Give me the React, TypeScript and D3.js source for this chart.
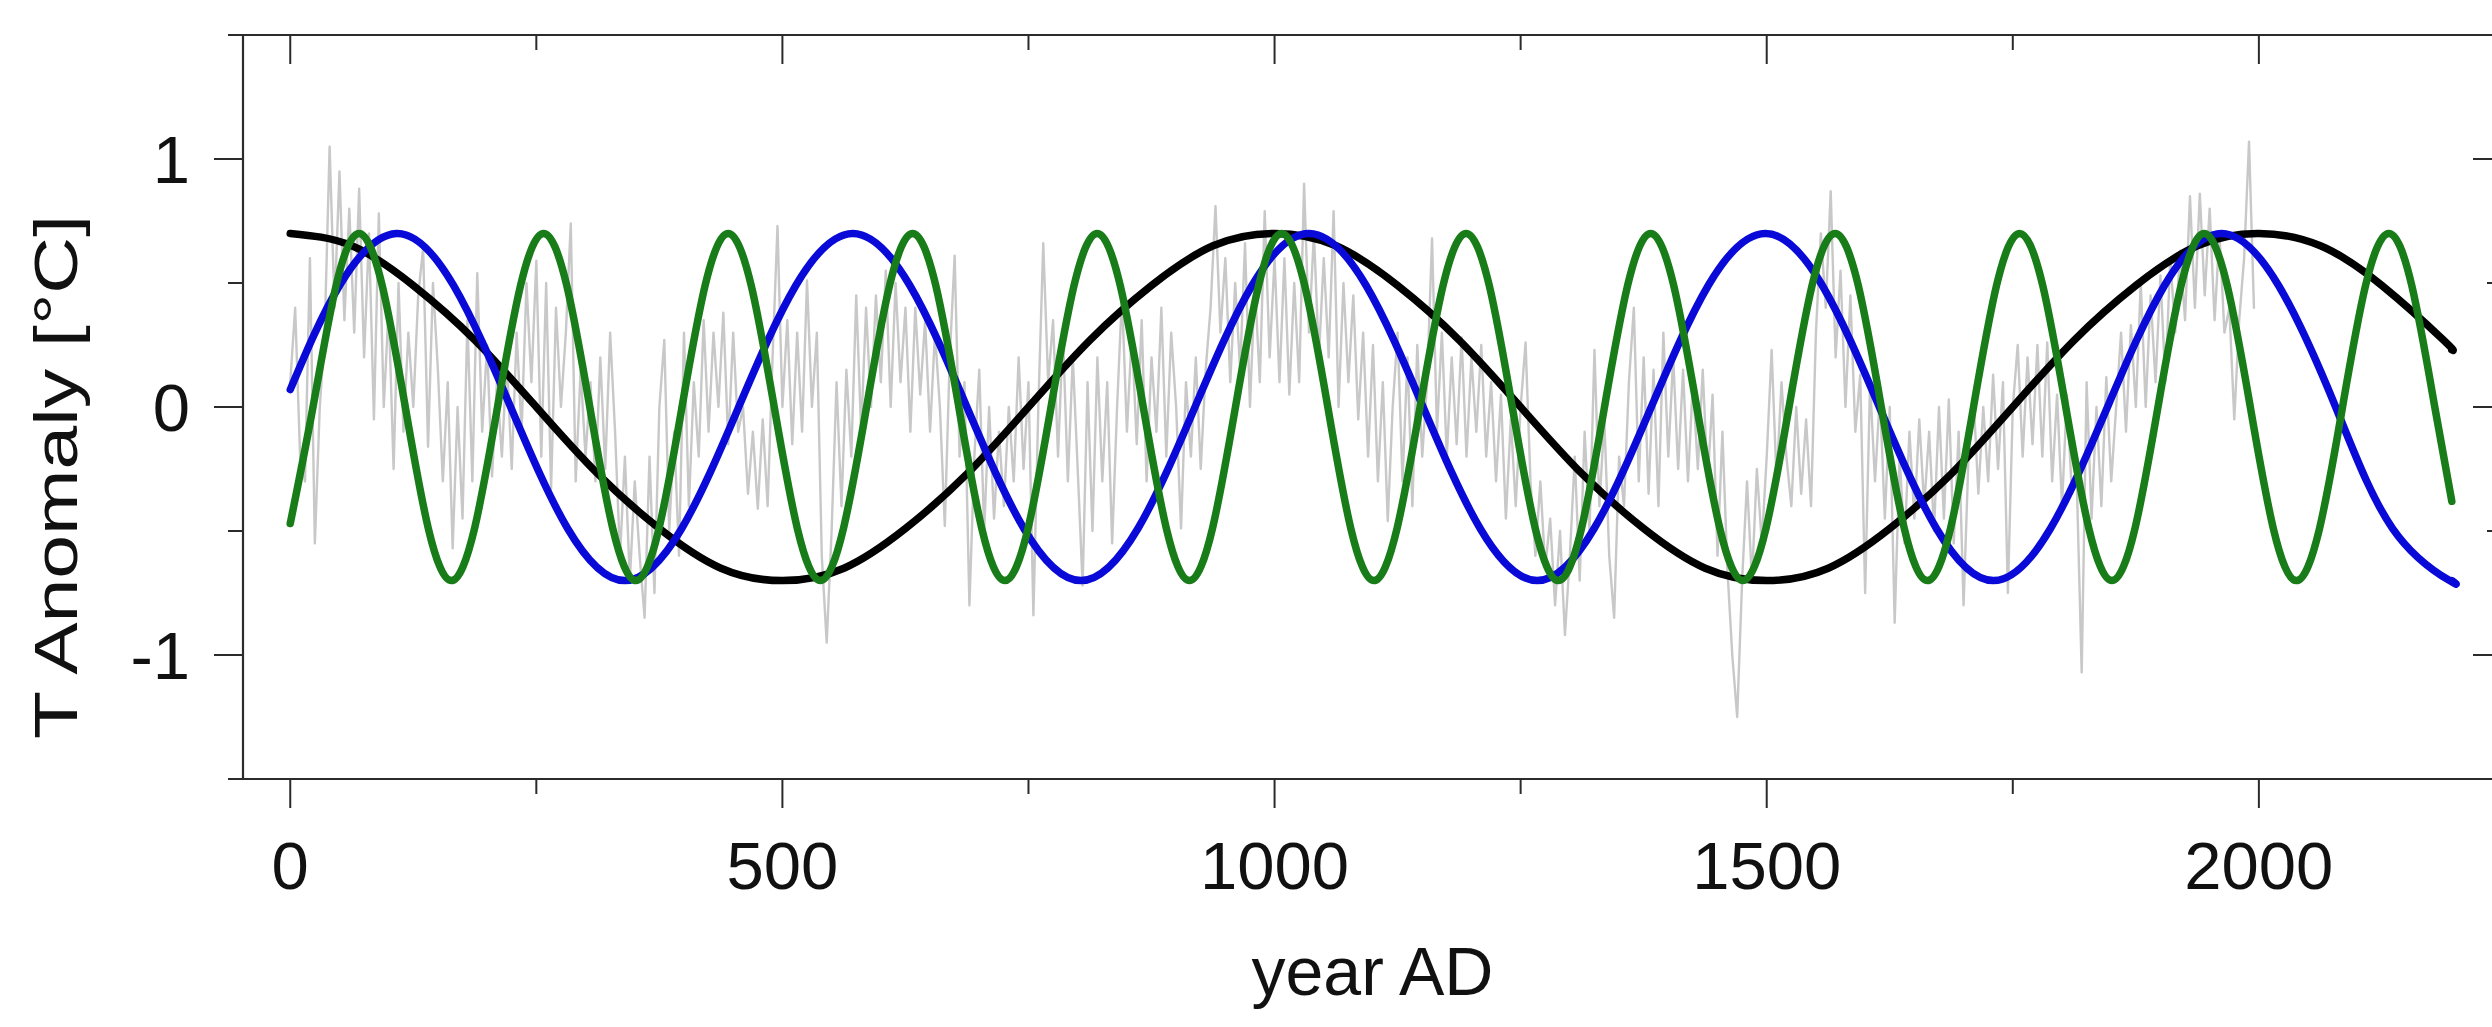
import React from 'react';
import * as d3 from 'd3';

const W = 2492;
const H = 1027;

// axis ticks
const xTicksMajor = [0, 500, 1000, 1500, 2000];
const xTicksMinor = [250, 750, 1250, 1750];
const yTicksMajor = [-1, 0, 1];
const yTicksMinor = [-1.5, -0.5, 0.5, 1.5];
const xTickLabels = ['0', '500', '1000', '1500', '2000'];
const yTickLabels = ['-1', '0', '1'];

// black cycle (~1000 yr)
const blackYears = [0, 62.5, 125, 187.5, 250, 312.5, 375, 437.5, 500, 562.5, 625, 687.5, 750, 812.5, 875, 937.5,
  1000, 1062.5, 1125, 1187.5, 1250, 1312.5, 1375, 1437.5, 1500, 1562.5, 1625, 1687.5, 1750, 1812.5, 1875, 1937.5,
  2000, 2062.5, 2125, 2187.5, 2196];
const blackValues = [0.70, 0.65, 0.49, 0.27, 0, -0.27, -0.49, -0.65, -0.70, -0.65, -0.49, -0.27, 0, 0.27, 0.49, 0.65,
  0.70, 0.65, 0.49, 0.27, 0, -0.27, -0.49, -0.65, -0.70, -0.65, -0.49, -0.27, 0, 0.27, 0.49, 0.65,
  0.70, 0.65, 0.49, 0.27, 0.23];

// blue cycle (~463 yr)
const blueYears = [0, 50.1, 108.0, 165.9, 223.9, 281.8, 339.8, 397.7, 455.6, 513.6, 571.5, 629.5, 687.4, 745.3, 803.3,
  861.2, 919.2, 977.1, 1035.0, 1093.0, 1150.9, 1208.9, 1266.8, 1324.7, 1382.7, 1440.6, 1498.6, 1556.5, 1614.4,
  1672.4, 1730.3, 1788.3, 1846.2, 1904.1, 1962.1, 2020.0, 2078.0, 2135.9, 2193.8, 2196];
const blueValues = [0.07, 0.49, 0.70, 0.49, 0, -0.49, -0.70, -0.49, 0, 0.49, 0.70, 0.49, 0, -0.49, -0.70,
  -0.49, 0, 0.49, 0.70, 0.49, 0, -0.49, -0.70, -0.49, 0, 0.49, 0.70, 0.49, 0,
  -0.49, -0.70, -0.49, 0, 0.49, 0.70, 0.49, 0, -0.49, -0.70, -0.70];

// green cycle (~187 yr)
const greenYears = [0, 23.1, 46.6, 70.0, 93.4, 116.9, 140.3, 163.7, 187.2, 210.6, 234.0, 257.4, 280.9, 304.3, 327.7,
  351.2, 374.6, 398.0, 421.5, 444.9, 468.3, 491.7, 515.2, 538.6, 562.0, 585.5, 608.9, 632.3, 655.8, 679.2, 702.6,
  726.0, 749.5, 772.9, 796.3, 819.8, 843.2, 866.6, 890.1, 913.5, 936.9, 960.3, 983.8, 1007.2, 1030.6, 1054.1,
  1077.5, 1100.9, 1124.4, 1147.8, 1171.2, 1194.6, 1218.1, 1241.5, 1264.9, 1288.4, 1311.8, 1335.2, 1358.7, 1382.1,
  1405.5, 1428.9, 1452.4, 1475.8, 1499.2, 1522.7, 1546.1, 1569.5, 1593.0, 1616.4, 1639.8, 1663.2, 1686.7, 1710.1,
  1733.5, 1757.0, 1780.4, 1803.8, 1827.3, 1850.7, 1874.1, 1897.5, 1921.0, 1944.4, 1967.8, 1991.3, 2014.7, 2038.1,
  2061.6, 2085.0, 2108.4, 2131.8, 2155.3, 2178.7, 2196];
const greenValues = [-0.47, 0, 0.49, 0.70, 0.49, 0, -0.49, -0.70, -0.49, 0, 0.49, 0.70, 0.49, 0, -0.49,
  -0.70, -0.49, 0, 0.49, 0.70, 0.49, 0, -0.49, -0.70, -0.49, 0, 0.49, 0.70, 0.49, 0, -0.49,
  -0.70, -0.49, 0, 0.49, 0.70, 0.49, 0, -0.49, -0.70, -0.49, 0, 0.49, 0.70, 0.49, 0,
  -0.49, -0.70, -0.49, 0, 0.49, 0.70, 0.49, 0, -0.49, -0.70, -0.49, 0, 0.49, 0.70,
  0.49, 0, -0.49, -0.70, -0.49, 0, 0.49, 0.70, 0.49, 0, -0.49, -0.70, -0.49, 0,
  0.49, 0.70, 0.49, 0, -0.49, -0.70, -0.49, 0, 0.49, 0.70, 0.49, 0, -0.49, -0.70,
  -0.49, 0, 0.49, 0.70, 0.49, 0, -0.38];

// gray reconstruction, one value every 5 years from year 0
const grayStartYear = 0;
const grayStep = 5;
const grayValues = [
  0.1, 0.4, -0.2, -0.3, 0.6, -0.55, 0.0, 0.3, 1.05, 0.4, 0.95, 0.35, 0.8, 0.3, 0.88, 0.2, 0.7, -0.05, 0.78, 0.0,
  0.4, -0.25, 0.5, -0.1, 0.3, 0.0, 0.45, 0.64, -0.16, 0.5, 0.15, -0.3, 0.1, -0.57, 0.0, -0.45, 0.35, -0.3, 0.54, -0.1,
  0.25, -0.28, 0.1, -0.2, 0.2, -0.25, 0.3, -0.1, 0.5, 0.1, 0.59, -0.2, 0.5, -0.33, 0.4, 0.0, 0.3, 0.74, -0.3, 0.15,
  -0.2, 0.1, -0.3, 0.2, -0.25, 0.3, -0.1, -0.6, -0.2, -0.7, -0.3, -0.6, -0.85, -0.2, -0.75, 0.0, 0.27, -0.5, -0.1, -0.6,
  0.3, -0.4, 0.1, -0.2, 0.35, -0.1, 0.3, 0.0, 0.38, -0.15, 0.3, -0.1, 0.0, -0.35, -0.1, -0.41, -0.05, -0.4, 0.2, 0.73,
  0.0, 0.35, -0.15, 0.3, -0.1, 0.51, 0.0, 0.3, -0.6, -0.95, -0.5, 0.1, -0.4, 0.15, -0.2, 0.45, -0.1, 0.4, 0.0, 0.45,
  0.1, 0.55, 0.0, 0.5, 0.1, 0.4, -0.1, 0.4, 0.05, 0.35, -0.1, 0.3, 0.0, -0.48, 0.2, 0.61, -0.2, 0.1, -0.8, -0.2,
  0.15, -0.5, 0.0, -0.45, -0.1, -0.4, 0.0, -0.3, 0.2, -0.25, 0.1, -0.84, 0.0, 0.66, 0.1, 0.35, -0.2, 0.3, -0.3, 0.2,
  -0.25, -0.72, 0.1, -0.5, 0.2, -0.3, 0.1, -0.55, 0.0, 0.45, -0.1, 0.3, -0.15, 0.35, -0.3, 0.2, -0.1, 0.4, -0.2, 0.3,
  0.0, -0.49, 0.1, -0.2, 0.2, -0.25, 0.15, 0.4, 0.81, 0.3, 0.6, 0.1, 0.5, 0.15, 0.66, 0.0, 0.5, 0.1, 0.79, 0.2,
  0.6, 0.1, 0.6, 0.05, 0.5, 0.1, 0.9, 0.3, 0.7, 0.2, 0.6, 0.2, 0.79, 0.0, 0.5, 0.1, 0.45, -0.05, 0.3, -0.2,
  0.25, -0.3, 0.1, -0.46, 0.0, 0.3, -0.3, 0.2, -0.4, 0.25, -0.2, 0.1, 0.68, -0.1, 0.3, -0.2, 0.2, -0.15, 0.28, -0.2,
  0.2, -0.1, 0.25, -0.2, 0.1, -0.3, 0.05, -0.45, -0.05, -0.4, 0.0, 0.26, -0.3, -0.6, -0.3, -0.65, -0.45, -0.8, -0.5, -0.92,
  -0.6, -0.2, -0.7, -0.1, -0.5, 0.23, -0.4, -0.05, -0.6, -0.85, -0.2, -0.4, 0.1, 0.4, -0.3, 0.2, -0.35, 0.15, -0.4, 0.3,
  -0.2, 0.2, -0.25, 0.15, -0.3, 0.1, -0.25, 0.15, -0.3, 0.05, -0.6, -0.1, -0.65, -1.0, -1.25, -0.7, -0.3, -0.7, -0.25, -0.55,
  -0.2, 0.23, -0.3, 0.1, -0.2, -0.4, 0.0, -0.35, -0.05, -0.4, 0.3, 0.7, 0.4, 0.87, 0.2, 0.55, 0.0, 0.45, -0.1, 0.13,
  -0.75, 0.1, -0.3, 0.05, -0.45, 0.0, -0.87, -0.2, -0.55, -0.1, -0.45, -0.05, -0.4, -0.1, -0.5, 0.0, -0.45, 0.03, -0.55, -0.1,
  -0.8, -0.2, 0.05, -0.35, 0.0, -0.3, 0.13, -0.25, 0.1, -0.75, 0.0, 0.25, -0.2, 0.2, -0.15, 0.25, -0.2, 0.26, -0.3, 0.05,
  -0.4, 0.05, -0.35, -0.3, -1.07, 0.1, -0.45, 0.0, -0.4, 0.12, -0.3, 0.0, 0.3, -0.1, 0.33, 0.0, 0.5, 0.0, 0.45, 0.1,
  0.53, 0.1, 0.6, 0.3, 0.63, 0.35, 0.85, 0.4, 0.86, 0.45, 0.8, 0.35, 0.7, 0.3, 0.4, -0.05, 0.35, 0.6, 1.07, 0.4,
];

const FONT = "'Liberation Sans', Arial, Helvetica, sans-serif";
const AXIS = '#2b2b2b';

export default function App() {
  const x = d3.scaleLinear().domain([-48, 2247]).range([243, 2502]);
  const y = d3.scaleLinear().domain([-1.5, 1.5]).range([779, 35]);

  const smooth = d3
    .line<[number, number]>()
    .x((d) => x(d[0]))
    .y((d) => y(d[1]))
    .curve(d3.curveNatural);
  const grayLine = d3
    .line<number>()
    .x((_, i) => x(grayStartYear + i * grayStep))
    .y((d) => y(d));

  const zip = (a: number[], b: number[]) => a.map((v, i) => [v, b[i]] as [number, number]);

  const [x0, x1] = x.range();
  const [yb, yt] = y.range();
  const major = 29;
  const minor = 15;

  return (
    <div style={{ position: 'fixed', left: 0, top: 0, width: W, height: H, background: '#fff' }}>
      <svg width={W} height={H} viewBox={`0 0 ${W} ${H}`} style={{ display: 'block' }}>
        <rect width={W} height={H} fill="#fff" />
        <defs>
          <clipPath id="plotClip">
            <rect x={x0} y={yt} width={x1 - x0} height={yb - yt} />
          </clipPath>
        </defs>

        <g clipPath="url(#plotClip)" fill="none" strokeLinejoin="round" strokeLinecap="round">
          <path d={grayLine(grayValues) || ''} stroke="#c8c8c8" strokeWidth={2.4} />
          <path d={smooth(zip(blackYears, blackValues)) || ''} stroke="#000000" strokeWidth={7.5} />
          <path d={smooth(zip(blueYears, blueValues)) || ''} stroke="#0a0ad8" strokeWidth={7.5} />
          <path d={smooth(zip(greenYears, greenValues)) || ''} stroke="#187c18" strokeWidth={7.5} />
        </g>

        {/* frame */}
        <g stroke={AXIS} strokeWidth={2.2} fill="none">
          <line x1={x0} y1={yt} x2={x0} y2={yb} />
          <line x1={x1} y1={yt} x2={x1} y2={yb} />
          <line x1={x0 - minor + 1} y1={yt} x2={x1} y2={yt} />
          <line x1={x0 - minor + 1} y1={yb} x2={x1} y2={yb} />
        </g>

        {/* ticks */}
        <g stroke={AXIS} strokeWidth={2}>
          {xTicksMajor.map((t) => (
            <g key={'xm' + t}>
              <line x1={x(t)} x2={x(t)} y1={yb} y2={yb + major} />
              <line x1={x(t)} x2={x(t)} y1={yt} y2={yt + major} />
            </g>
          ))}
          {xTicksMinor.map((t) => (
            <g key={'xn' + t}>
              <line x1={x(t)} x2={x(t)} y1={yb} y2={yb + minor} />
              <line x1={x(t)} x2={x(t)} y1={yt} y2={yt + minor} />
            </g>
          ))}
          {yTicksMajor.map((t) => (
            <g key={'ym' + t}>
              <line x1={x0 - major} x2={x0} y1={y(t)} y2={y(t)} />
              <line x1={x1 - major} x2={x1} y1={y(t)} y2={y(t)} />
            </g>
          ))}
          {yTicksMinor.map((t) => (
            <g key={'yn' + t}>
              <line x1={x0 - minor} x2={x0} y1={y(t)} y2={y(t)} />
              <line x1={x1 - minor} x2={x1} y1={y(t)} y2={y(t)} />
            </g>
          ))}
        </g>

        {/* tick labels */}
        <g fontFamily={FONT} fontSize={67} fill="#111">
          {xTicksMajor.map((t, i) => (
            <text key={'xl' + t} x={x(t)} y={889} textAnchor="middle">
              {xTickLabels[i]}
            </text>
          ))}
          {yTicksMajor.map((t, i) => (
            <text key={'yl' + t} x={190} y={y(t) + 24} textAnchor="end">
              {yTickLabels[i]}
            </text>
          ))}
        </g>

        <text x={(x0 + x1) / 2} y={995} textAnchor="middle" fontFamily={FONT} fontSize={68} fill="#111">
          year AD
        </text>
        <text
          transform={`translate(77, 477) rotate(-90)`}
          textAnchor="middle"
          fontFamily={FONT}
          fontSize={61}
          fill="#111"
          textLength={524}
          lengthAdjust="spacingAndGlyphs"
        >
          T Anomaly [°C]
        </text>
      </svg>
    </div>
  );
}
